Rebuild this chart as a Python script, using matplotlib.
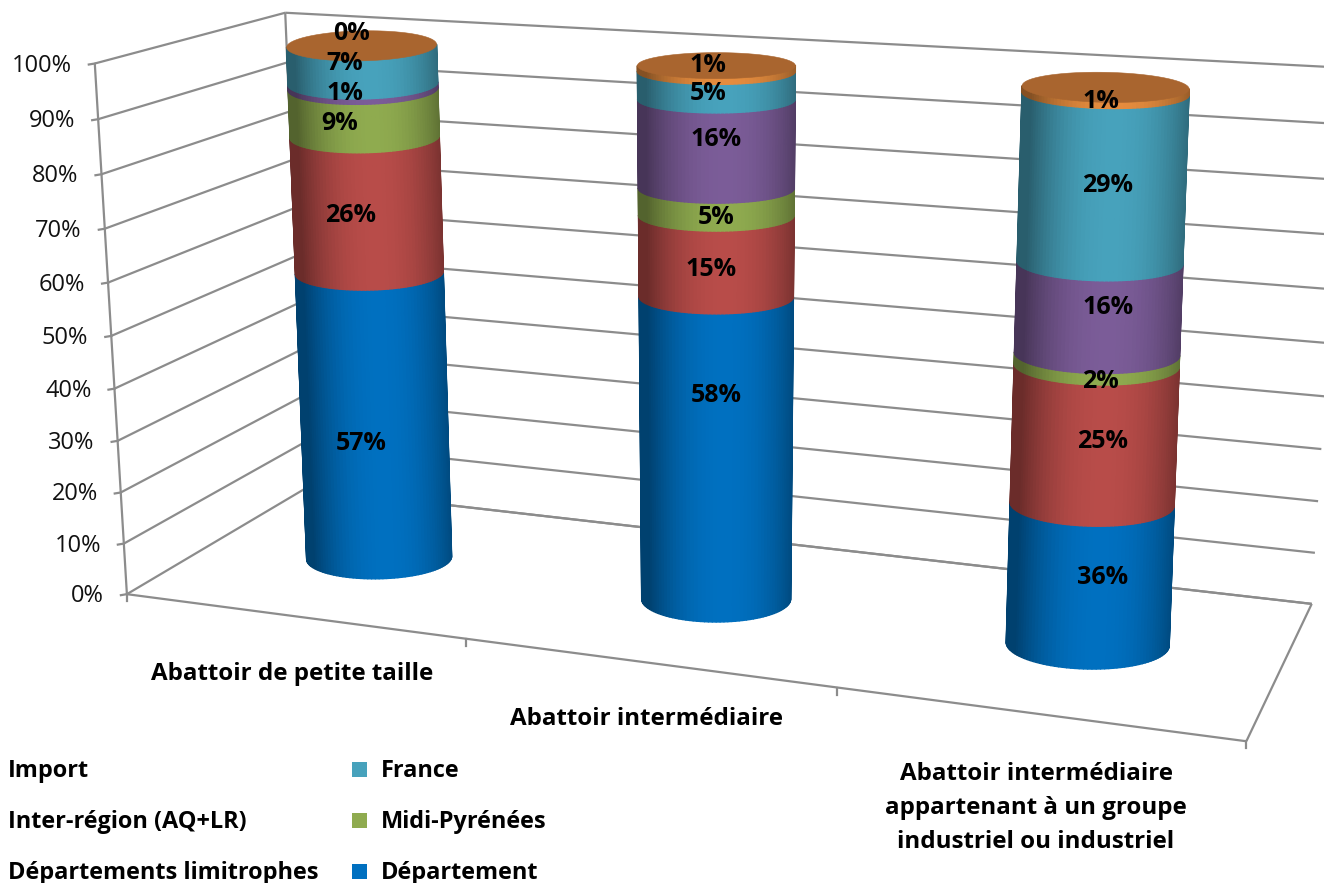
# %%
import numpy as np
from matplotlib import pyplot as plt
from matplotlib.collections import PolyCollection
from matplotlib.colors import to_rgb
from matplotlib.patches import Polygon, Rectangle

# %%
categories = [
    "Abattoir de petite taille",
    "Abattoir intermédiaire",
    "Abattoir intermédiaire\nappartenant à un groupe\nindustriel ou industriel",
]
series = [
    "Département",
    "Départements limitrophes",
    "Midi-Pyrénées",
    "Inter-région (AQ+LR)",
    "France",
    "Import",
]
small = [57, 26, 9, 1, 7, 0]
inter = [58, 15, 5, 16, 5, 1]
group = [26, 25, 2, 16, 29, 1]  # blue part is drawn at ~26 though it is labelled 36%
small_labels = ["57%", "26%", "9%", "1%", "7%", "0%"]
inter_labels = ["58%", "15%", "5%", "16%", "5%", "1%"]
group_labels = ["36%", "25%", "2%", "16%", "29%", "1%"]
yticks = [0, 10, 20, 30, 40, 50, 60, 70, 80, 90, 100]

# %%
plt.rcParams["font.family"] = ["Open Sans", "DejaVu Sans"]

colors = ["#0070C0", "#B84C49", "#8FAB4F", "#7B5C98", "#47A2BC", "#E58C3E"]
cap_color = "#A9652F"
grid_color = "#8C8C8C"

# box corners (x, value, depth) -> picture pixels
corners = [
    ((0, 0, 0), (127, 594)),
    ((1, 0, 0), (1246, 742)),
    ((0, 0, 1), (305, 489)),
    ((1, 0, 1), (1312, 603)),
    ((0, 1, 0), (95, 63)),
    ((0, 1, 1), (285, 13)),
    ((1, 1, 1), (1345, 68)),
]
rows = []
for (X, Y, Z), (u, v) in corners:
    rows.append([X, Y, Z, 1, 0, 0, 0, 0, -u * X, -u * Y, -u * Z, -u])
    rows.append([0, 0, 0, 0, X, Y, Z, 1, -v * X, -v * Y, -v * Z, -v])
P = np.linalg.svd(np.array(rows, dtype=float))[2][-1].reshape(3, 4)


def project(x, y, z):
    pts = np.array([x, y, z, 1.0]) @ P.T
    return pts[0] / pts[2], pts[1] / pts[2]


# %%
fig = plt.figure(figsize=(13.24, 8.83), dpi=100)
ax = fig.add_axes([0, 0, 1, 1])
ax.set_xlim(0, 1324)
ax.set_ylim(883, 0)
ax.axis("off")


def line(p, q, lw=1.6):
    x0, y0 = project(*p)
    x1, y1 = project(*q)
    ax.plot([x0, x1], [y0, y1], color=grid_color, lw=lw, zorder=1, solid_capstyle="butt")


# %% walls
for t in yticks:
    v = t / 100
    line((0, v, 0), (0, v, 1))
    line((0, v, 1), (1, v, 1))
    px, py = project(0, v, 0)
    ax.plot([px - 6, px], [py + 1, py], color=grid_color, lw=1.6, zorder=1)
    ax.text(px - 23, py + 2, f"{t}%", ha="right", va="center", fontsize=17, color="#111111")
line((0, 0, 0), (0, 1, 0))
line((0, 0, 1), (0, 1, 1))
line((0, 0, 0), (1, 0, 0))
line((1, 0, 0), (1, 0, 1))
line((0, 0, 1), (1, 0, 1))
for i in range(4):
    px, py = project(i / 3, 0, 0)
    ax.plot([px, px], [py, py + 7], color=grid_color, lw=1.6, zorder=1)

# %% cylinders, rings are plain ellipses around the projected axis
half_w = [(72.5, 75), (74.5, 79), (81.5, 83.5)]  # bottom, top
half_h = [(21, 15), (23, 13), (25, 15)]
foot_shift = [0, 0, 3.5]
tilt = [-0.02, 0, 0.02]
centre_z = 0.5
t_front = np.linspace(0, np.pi, 61)
t_mid = (t_front[:-1] + t_front[1:]) / 2
t_all = np.linspace(0, 2 * np.pi, 121)


def ring(i, level, t):
    cx, cy = project((i + 0.5) / 3, level, centre_z)
    cx += foot_shift[i] * (1 - level)
    a = half_w[i][0] + (half_w[i][1] - half_w[i][0]) * level
    b = half_h[i][0] + (half_h[i][1] - half_h[i][0]) * level
    return cx + a * np.cos(t), cy + b * np.sin(t) + tilt[i] * a * np.cos(t)


for i, vals in enumerate([small, inter, group]):
    levels = np.cumsum([0] + vals) / sum(vals)
    for s in range(len(vals)):
        if vals[s] == 0:
            continue
        base = np.array(to_rgb(colors[s]))
        xs0, ys0 = ring(i, levels[s], t_front)
        xs1, ys1 = ring(i, levels[s + 1], t_front)
        quads, fc = [], []
        for k in range(len(t_mid)):
            quads.append([(xs0[k], ys0[k]), (xs0[k + 1], ys0[k + 1]), (xs1[k + 1], ys1[k + 1]), (xs1[k], ys1[k])])
            shade = 0.58 + 0.42 * np.clip(1 - np.abs(np.cos(t_mid[k]) - 0.1) ** 2.2, 0, 1)
            fc.append(base * shade)
        ax.add_collection(PolyCollection(quads, facecolors=fc, edgecolors=fc, linewidths=1.0, zorder=3))
    xs, ys = ring(i, levels[-1], t_all)
    ax.add_patch(Polygon(np.c_[xs, ys], closed=True, fc=cap_color, ec=cap_color, lw=0.4, zorder=4))

# %% value labels
label_xy = [
    [(361, 444), (351, 215), (340, 124), (345, 94), (345, 64), (352, 33)],
    [(716, 395), (711, 269), (716, 217), (716, 140), (708, 94), (708, 65)],
    [(1103, 578), (1103, 442), (1100, 382), (1108, 307), (1108, 185), (1101, 101)],
]
for xy, labels in zip(label_xy, [small_labels, inter_labels, group_labels]):
    for (lx, ly), lab in zip(xy, labels):
        ax.text(lx, ly, lab, ha="center", va="center", fontsize=18, fontweight="bold", color="black", zorder=10)

# %% category labels
ax.text(292, 674, categories[0], ha="center", va="center", fontsize=17.4, fontweight="bold")
ax.text(646, 719, categories[1], ha="center", va="center", fontsize=17.4, fontweight="bold")
ax.text(1036, 808, categories[2], ha="center", va="center", fontsize=17.4, fontweight="bold", linespacing=1.58)

# %% legend, the keys of the left column are cut off in the picture
for s, lx, ly in [(5, 8, 769), (3, 8, 820), (1, 8, 871), (4, 381, 769), (2, 381, 820), (0, 381, 871)]:
    ax.text(lx, ly + 2, series[s], ha="left", va="center", fontsize=16.9, fontweight="bold")
    if lx > 100:
        ax.add_patch(Rectangle((352, ly - 7.5), 15, 15, fc=colors[s], ec="none"))

fig.savefig("out.png", dpi=100)
